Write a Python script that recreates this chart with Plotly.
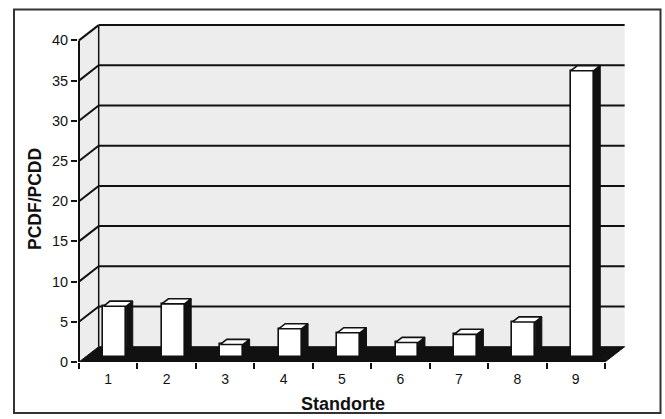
import plotly.graph_objects as go

# Site labels and PCDF/PCDD ratio per site
standorte = ["1", "2", "3", "4", "5", "6", "7", "8", "9"]
ratio = [6.3, 6.6, 1.55, 3.5, 3.0, 1.8, 2.8, 4.35, 35.6]
y_ticks = [0, 5, 10, 15, 20, 25, 30, 35, 40]
y_tick_text = ["0", "5", "10", "15", "20", "25", "30", "35", "40"]

W, H = 665, 419
PX_X, PX_Y = 58.44, 8.04          # pixels per axis unit
DX, DY = 0.337, 1.9               # depth of the pseudo-3D box, axis units
F0, F1 = 1 / 3, 2 / 3             # bar front/back as fraction of depth
BAR_W = 0.39
Y_TOP = 40

ML, MR, MT, MB = 78, 39, 23, 57
plot_w = W - ML - MR
plot_h = H - MT - MB
x_lo = 0.5 - 1 / PX_X
x_hi = x_lo + plot_w / PX_X
y_lo = 0
y_hi = plot_h / PX_Y

INK = "#111111"
WALL = "#ededed"

xs = [i + 1 for i in range(len(standorte))]

fig = go.Figure()

# front faces of the bars
bar_x = [x + F0 * DX for x in xs]
base = F0 * DY
fig.add_trace(go.Bar(
    x=bar_x, y=ratio, base=base, width=BAR_W,
    marker=dict(color="white", line=dict(color=INK, width=1.6)),
    hoverinfo="skip", showlegend=False,
))

# side and top faces derived from the same values
bdx = (F1 - F0) * DX
bdy = (F1 - F0) * DY
side_x, side_y, top_x, top_y = [], [], [], []
for x, v in zip(bar_x, ratio):
    xl, xr = x - BAR_W / 2, x + BAR_W / 2
    yt = base + v
    side_x += [xr, xr, xr + bdx, xr + bdx, xr, None]
    side_y += [base, yt, yt + bdy, base + bdy, base, None]
    top_x += [xl, xr, xr + bdx, xl + bdx, xl, None]
    top_y += [yt, yt, yt + bdy, yt + bdy, yt, None]

fig.add_trace(go.Scatter(
    x=side_x, y=side_y, mode="lines", fill="toself", fillcolor=INK,
    line=dict(color=INK, width=1), hoverinfo="skip", showlegend=False,
))
fig.add_trace(go.Scatter(
    x=top_x, y=top_y, mode="lines", fill="toself", fillcolor="white",
    line=dict(color=INK, width=1.6), hoverinfo="skip", showlegend=False,
))

# walls, floor and gridlines of the box
shapes = []
xb0, xb1 = 0.5 + DX, 9.5 + DX
shapes.append(dict(type="rect", xref="x", yref="y", x0=xb0, x1=xb1, y0=DY, y1=Y_TOP + DY,
                   fillcolor=WALL, line=dict(width=0), layer="below"))
shapes.append(dict(type="path", xref="x", yref="y",
                   path=f"M0.5,0 L0.5,{Y_TOP} L{xb0},{Y_TOP + DY} L{xb0},{DY} Z",
                   fillcolor=WALL, line=dict(width=0), layer="below"))
shapes.append(dict(type="path", xref="x", yref="y",
                   path=f"M0.5,0 L9.5,0 L{xb1},{DY} L{xb0},{DY} Z",
                   fillcolor=INK, line=dict(color=INK, width=1), layer="below"))
for v in y_ticks[1:]:
    shapes.append(dict(type="line", xref="x", yref="y", x0=xb0, x1=xb1, y0=v + DY, y1=v + DY,
                       line=dict(color=INK, width=2), layer="below"))
    shapes.append(dict(type="line", xref="x", yref="y", x0=0.5, x1=xb0, y0=v, y1=v + DY,
                       line=dict(color=INK, width=2), layer="below"))
shapes.append(dict(type="line", xref="x", yref="y", x0=xb0, x1=xb0, y0=DY, y1=Y_TOP + DY,
                   line=dict(color=INK, width=1.5), layer="below"))
shapes.append(dict(type="line", xref="x", yref="y", x0=0.5, x1=0.5, y0=0, y1=Y_TOP,
                   line=dict(color=INK, width=2), layer="below"))


def px_to_paper(px, py):
    return (px - ML) / plot_w, (H - MB - py) / plot_h


bx0, by0 = px_to_paper(14, 413)
bx1, by1 = px_to_paper(660.5, 9.5)
shapes.append(dict(type="rect", xref="paper", yref="paper", x0=bx0, x1=bx1, y0=by0, y1=by1,
                   line=dict(color="#333333", width=2), fillcolor="rgba(0,0,0,0)", layer="above"))

font_family = "Liberation Sans, Arial, sans-serif"
ax_x, ax_y = px_to_paper(35, 199)
tx_x, tx_y = px_to_paper(343, 404)
annotations = [
    dict(text="<b>PCDF/PCDD</b>", x=ax_x, y=ax_y, xref="paper", yref="paper",
         textangle=-90, showarrow=False, xanchor="center", yanchor="middle",
         font=dict(family=font_family, size=17.5, color=INK)),
    dict(text="<b>Standorte</b>", x=tx_x, y=tx_y, xref="paper", yref="paper",
         showarrow=False, xanchor="center", yanchor="middle",
         font=dict(family=font_family, size=18, color=INK)),
]

fig.update_layout(
    width=W, height=H,
    margin=dict(l=ML, r=MR, t=MT, b=MB),
    paper_bgcolor="white", plot_bgcolor="white",
    shapes=shapes, annotations=annotations,
    bargap=0, showlegend=False,
    font=dict(family=font_family, color=INK),
    xaxis=dict(
        range=[x_lo, x_hi], tickmode="array", tickvals=xs, ticktext=standorte,
        ticks="", showgrid=False, zeroline=False, showline=False,
        tickfont=dict(size=14, color=INK), ticklabelstandoff=7,
        minor=dict(tickmode="array", tickvals=[x - 0.5 for x in xs] + [9.5],
                   ticks="outside", ticklen=6, tickwidth=1.5, tickcolor=INK, showgrid=False),
    ),
    yaxis=dict(
        range=[y_lo, y_hi], tickmode="array", tickvals=y_ticks, ticktext=y_tick_text,
        ticks="outside", ticklen=6, tickwidth=1.5, tickcolor=INK,
        showgrid=False, zeroline=False, showline=False,
        tickfont=dict(size=14.5, color=INK),
    ),
)

fig.write_html("out.html")
